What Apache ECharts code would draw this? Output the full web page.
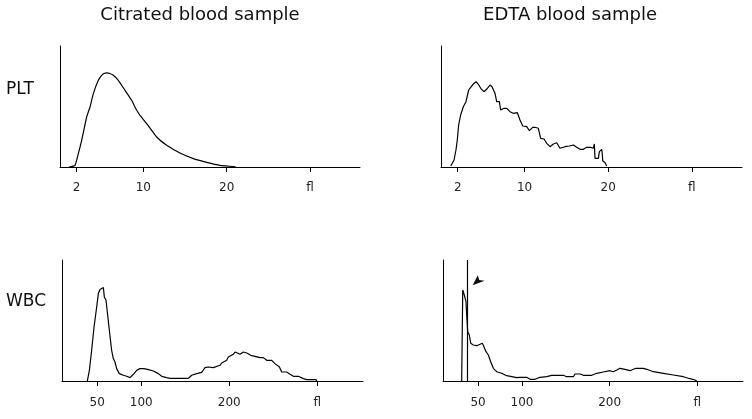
<!DOCTYPE html>
<html>
<head>
<meta charset="utf-8">
<script src="https://cdn.jsdelivr.net/npm/echarts@6/dist/echarts.min.js"></script>
<style>
html,body{margin:0;padding:0;background:#fff;}
#chart{width:752px;height:419px;}
</style>
</head>
<body>
<div id="chart"></div>
<script>
// Column titles and row labels
const columnTitles = ['Citrated blood sample', 'EDTA blood sample'];
const rowLabels = ['PLT', 'WBC'];

// Tick positions and labels
const pltTicks = [2, 10, 20, 30];
const pltTickLabels = ['2', '10', '20', 'fl'];
const wbcTicks = [50, 100, 200, 300];
const wbcTickLabels = ['50', '100', '200', 'fl'];

// PLT, citrated
const pltCitX = [1.08,1.8,2.2,2.6,3.2,3.6,4.0,4.6,5.0,5.28,5.6,6.0,6.4,7.0,7.8,8.6,9.12,9.6,10.4,11.6,12.8,14.4,16.0,17.6,19.2,20.8,21.1];
const pltCitY = [0,1.7,13.4,26.7,50,60,73.4,86.7,91.7,93.5,94.2,93.5,91.7,86.7,76.7,66.7,58,51.7,43.4,30,21.7,14,8.4,4.7,1.7,0.4,0];

// PLT, EDTA
const pltEdtaX = [1.16,1.56,1.79,1.95,2.11,2.35,2.67,2.99,3.15,3.31,3.55,3.87,4.19,4.47,4.75,5.14,5.46,5.86,6.10,6.46,6.66,6.98,7.14,7.54,7.86,8.25,8.65,9.13,9.45,9.77,10.25,10.57,10.97,11.24,11.64,11.76,11.92,12.32,12.64,13.04,13.44,13.84,14.04,14.23,14.83,15.35,15.83,16.23,16.63,17.03,17.42,17.90,18.22,18.34,18.42,18.82,18.94,19.22,19.30,19.34,19.62,19.82];
const pltEdtaY = [1,7,17,27,42,52,60.3,65.3,67,77,79.7,83,85.3,82.7,78.7,75.3,77.7,82,80.3,73.7,65.3,65.3,57,58.7,58.7,55.3,53.7,54.3,47,41,40.3,36.3,39.7,39.7,38.7,38.7,28.7,28,23.7,20.3,23,24.3,25.3,18.7,20.3,21,22,19.7,17.7,17.7,19.7,19.7,18.7,23,8.7,8.7,15.3,17.7,12,6.3,4.3,1];

// WBC, citrated
const wbcCitX = [38.8,41.1,43.7,46.4,49.4,51.3,53.2,55.1,57.0,58.1,60.0,61.5,63.8,66.4,68.3,70.2,72.1,75.1,79.7,83.5,87.3,91.1,94.9,98.6,103.2,108.1,113.8,119.5,123.3,128.9,132.7,144.1,153.6,157.4,163.1,168.7,172.5,176.3,182.0,189.5,191.4,197.1,199.0,204.7,206.6,209.2,212.3,216.1,219.9,224.4,229.3,235.0,238.8,242.6,248.3,252.0,257.0,259.6,265.3,269.1,272.9,278.6,284.2,288.0,298.6,299.4];
const wbcCitY = [0,10.7,30.7,54,74,87.4,91.4,93.4,93.4,84,80.7,69,50.7,30.7,22.4,19,12.4,7.4,5.7,4.7,3.4,6.7,10.7,12.4,12.4,11.4,10,7.4,4.7,3.4,2.7,2.7,2.7,5.7,7.4,8.7,13.4,14,13.4,15.7,18,20.7,24,26.7,29,28,26.7,29,28,25.7,24.7,23.4,23.4,20.7,20.7,17.4,14,9,9,6.7,4.7,4.7,2.4,1.4,1.4,0];

// WBC, EDTA
const wbcEdtaX = [31.3,32.5,33.1,34.3,35.4,36.2,37.0,38.2,40.0,41.6,44.5,48.4,52.2,54.8,56.7,59.0,61.7,64.4,67.4,71.2,76.9,82.6,94.0,97.8,105.4,109.2,114.9,120.6,128.2,133.9,147.2,151.0,158.6,160.5,166.2,170.0,179.6,185.3,192.8,200.4,204.2,208.1,211.8,213.8,217.5,223.2,227.0,230.1,238.4,242.3,249.8,261.2,272.6,284.0,291.6,297.3,299.3];
const wbcEdtaY = [0,91,92,86,84.3,79.3,66,49.3,46,37.7,36,35.3,36.7,37.7,34.3,29.3,26,19.3,12.7,9.3,7.7,5.3,3.3,3.7,3.7,1.7,1.7,3.7,4.3,5.7,5.7,4.3,4.3,7,7,5.7,5.7,7.7,9,10.3,9.3,11,12.7,13.7,11.7,10.3,11.7,12.7,12.7,11.7,9.3,7.7,6,4.3,2.3,1,0];

// Annotations on EDTA WBC panel
const edtaWbcMarkerX = 37.4;
const arrowPoint = [50.7, 100.7];

const pair = (xs, ys) => xs.map((x, i) => [x, ys[i]]);

const grids = [
  {left: 60, top: 46, width: 300, height: 121},
  {left: 441, top: 46, width: 301, height: 121},
  {left: 62, top: 260, width: 301, height: 121},
  {left: 443, top: 260, width: 300, height: 121}
];

const axisRanges = [
  {min: 0, max: 36, ticks: pltTicks, labels: pltTickLabels},
  {min: 0, max: 36, ticks: pltTicks, labels: pltTickLabels},
  {min: 10, max: 352, ticks: wbcTicks, labels: wbcTickLabels},
  {min: 10, max: 352, ticks: wbcTicks, labels: wbcTickLabels}
];

const xAxes = axisRanges.map((r, i) => ({
  type: 'value', gridIndex: i, min: r.min, max: r.max,
  splitLine: {show: false},
  axisLine: {show: true, onZero: false, lineStyle: {color: '#000', width: 1}},
  axisTick: {show: true, length: 5, customValues: r.ticks, lineStyle: {color: '#000', width: 1}},
  axisLabel: {
    show: true, customValues: r.ticks, margin: i < 2 ? 15 : 16,
    fontFamily: 'DejaVu Sans', fontSize: 12, color: '#222',
    formatter: v => r.labels[r.ticks.indexOf(v)] ?? ''
  }
}));

const yAxes = grids.map((g, i) => ({
  type: 'value', gridIndex: i, min: 0, max: 121,
  splitLine: {show: false},
  axisLine: {show: true, lineStyle: {color: '#000', width: 1}},
  axisTick: {show: false},
  axisLabel: {show: false}
}));

const lineBase = {
  type: 'line', showSymbol: false, symbol: 'none',
  lineStyle: {color: '#000', width: 1.2},
  itemStyle: {color: '#000'}
};

const series = [
  Object.assign({}, lineBase, {xAxisIndex: 0, yAxisIndex: 0, smooth: 0.15, data: pair(pltCitX, pltCitY)}),
  Object.assign({}, lineBase, {xAxisIndex: 1, yAxisIndex: 1, data: pair(pltEdtaX, pltEdtaY)}),
  Object.assign({}, lineBase, {xAxisIndex: 2, yAxisIndex: 2, data: pair(wbcCitX, wbcCitY)}),
  Object.assign({}, lineBase, {
    xAxisIndex: 3, yAxisIndex: 3, data: pair(wbcEdtaX, wbcEdtaY),
    markLine: {
      silent: true, symbol: ['none', 'none'], label: {show: false},
      lineStyle: {color: '#000', width: 1.2, type: 'solid'},
      data: [{xAxis: edtaWbcMarkerX}]
    },
    markPoint: {
      silent: true,
      data: [{coord: arrowPoint, symbol: 'path://M0,9L5,0L6.6,4.2L12,5Z', symbolSize: [12, 10],
        symbolKeepAspect: false, itemStyle: {color: '#111'}, label: {show: false}}]
    }
  })
];

const titleStyle = {fontFamily: 'DejaVu Sans', fontSize: 18, fontWeight: 'normal', color: '#111'};
const rowStyle = {fontFamily: 'DejaVu Sans', fontSize: 17, fontWeight: 'normal', color: '#111'};

const chart = echarts.init(document.getElementById('chart'), null, {renderer: 'canvas'});
chart.setOption({
  animation: false,
  backgroundColor: '#fff',
  title: [
    {text: columnTitles[0], left: 200, top: 6, padding: 0, textAlign: 'center', textStyle: titleStyle},
    {text: columnTitles[1], left: 570, top: 6, padding: 0, textAlign: 'center', textStyle: titleStyle},
    {text: rowLabels[0], left: 6, top: 81, padding: 0, textStyle: rowStyle},
    {text: rowLabels[1], left: 6, top: 293, padding: 0, textStyle: rowStyle}
  ],
  grid: grids,
  xAxis: xAxes,
  yAxis: yAxes,
  series: series
});
</script>
</body>
</html>
